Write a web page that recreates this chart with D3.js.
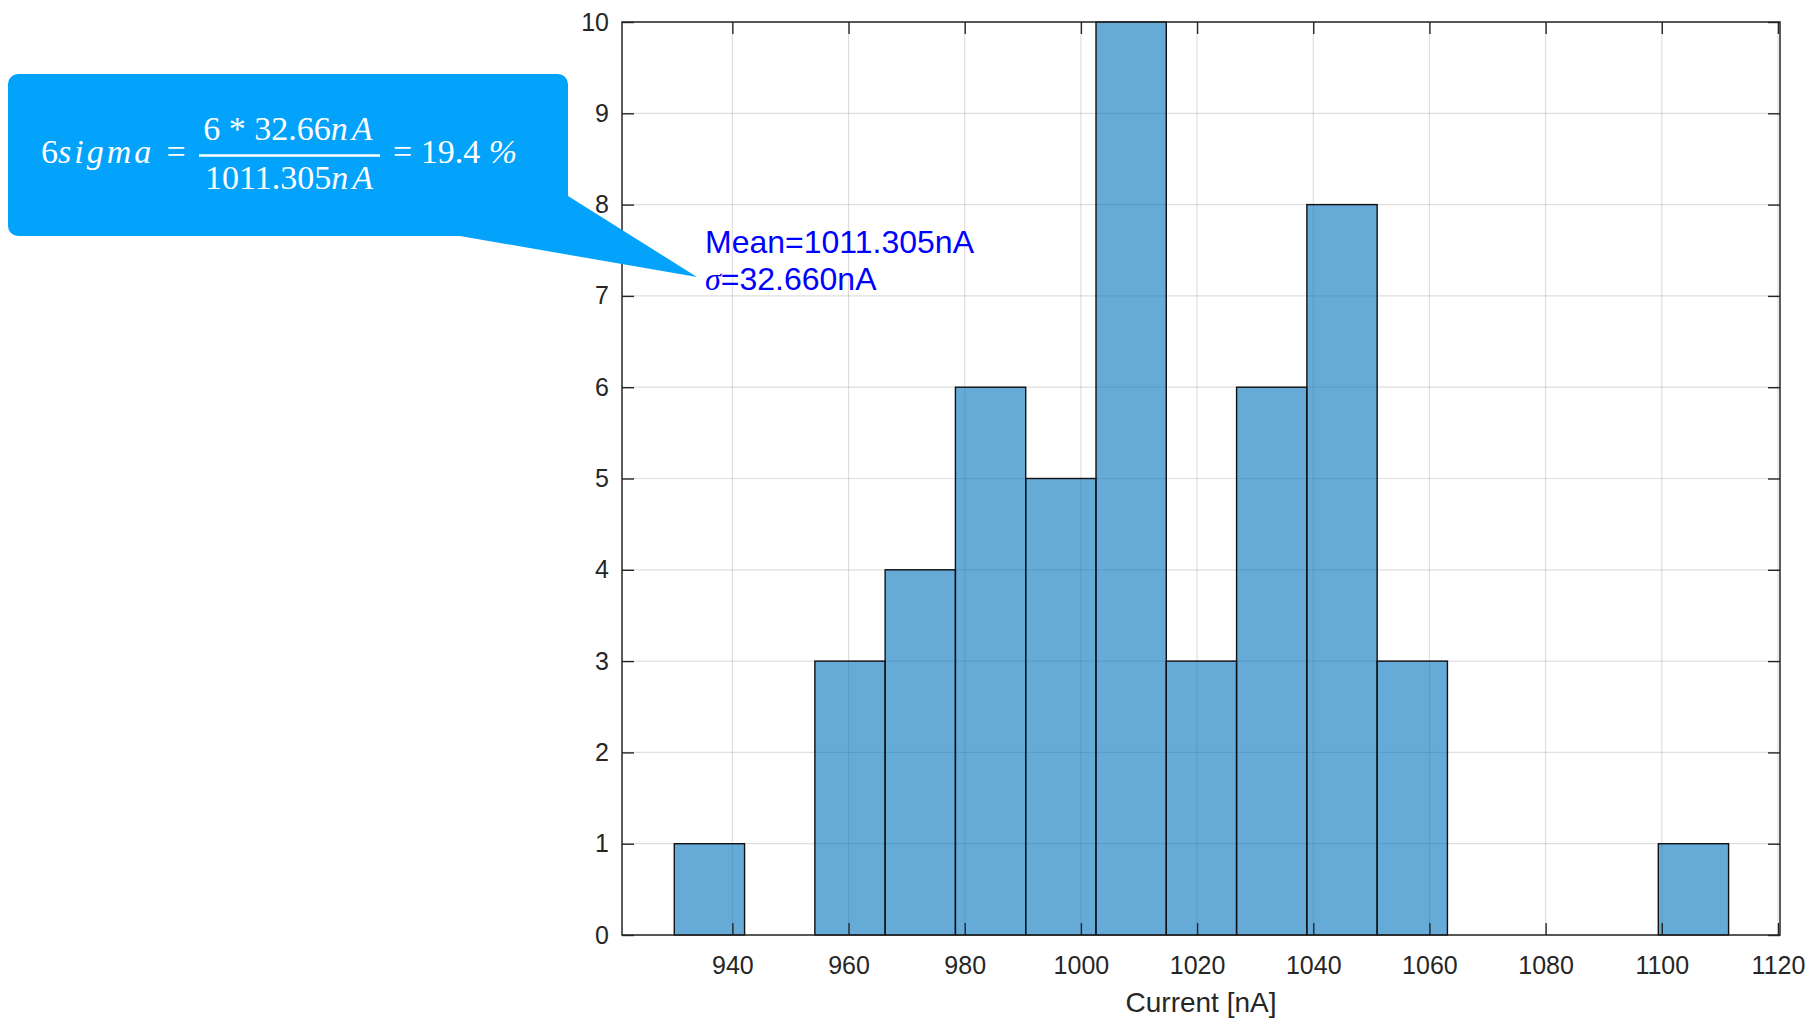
<!DOCTYPE html>
<html>
<head>
<meta charset="utf-8">
<script src="https://cdn.jsdelivr.net/npm/d3@7"></script>
<style>
  html, body { margin: 0; padding: 0; background: #fff; }
  svg { display: block; }
</style>
</head>
<body>
<script>
// Histogram of measured current, 50 samples
const binEdges = [930.0, 942.1, 954.2, 966.3, 978.4, 990.5, 1002.6, 1014.7, 1026.8,
                  1038.9, 1051.0, 1063.1, 1075.2, 1087.3, 1099.4, 1111.5];
const binCounts = [1, 0, 3, 4, 6, 5, 10, 3, 6, 8, 3, 0, 0, 0, 1];
const xTickValues = [940, 960, 980, 1000, 1020, 1040, 1060, 1080, 1100, 1120];
const yTickValues = [0, 1, 2, 3, 4, 5, 6, 7, 8, 9, 10];
const xDomain = [921.0, 1120.35];
const yDomain = [0, 10];
const xLabel = "Current [nA]";
const statLines = ["Mean=1011.305nA", "=32.660nA"];

const W = 1812, H = 1021;
const plot = { left: 622, right: 1780, top: 22, bottom: 935 };
const axisColor = "#262626";
const sansFont = "'Liberation Sans', Arial, Helvetica, sans-serif";
const serifFont = "'Liberation Serif', 'Times New Roman', Times, serif";

const svg = d3.select("body").append("svg")
  .attr("width", W).attr("height", H);

const x = d3.scaleLinear().domain(xDomain).range([plot.left, plot.right]);
const y = d3.scaleLinear().domain(yDomain).range([plot.bottom, plot.top]);

// grid
const grid = svg.append("g").attr("stroke", axisColor).attr("stroke-opacity", 0.15).attr("stroke-width", 1.2);
grid.selectAll("line.vx").data(xTickValues).join("line")
  .attr("x1", d => x(d)).attr("x2", d => x(d))
  .attr("y1", plot.top).attr("y2", plot.bottom);
grid.selectAll("line.hy").data(yTickValues).join("line")
  .attr("x1", plot.left).attr("x2", plot.right)
  .attr("y1", d => y(d)).attr("y2", d => y(d));

// histogram bars
const bins = binCounts.map((c, i) => ({ x0: binEdges[i], x1: binEdges[i + 1], count: c }));
svg.append("g").selectAll("rect").data(bins).join("rect")
  .attr("x", d => x(d.x0))
  .attr("y", d => y(d.count))
  .attr("width", d => x(d.x1) - x(d.x0))
  .attr("height", d => y(0) - y(d.count))
  .attr("fill", "#0072BD").attr("fill-opacity", 0.6)
  .attr("stroke", "#111").attr("stroke-width", 1.4);

// axes with inward ticks on all four sides
const tickLen = 12;
function styleAxis(g) {
  g.select(".domain").remove();
  g.selectAll(".tick line").attr("stroke", axisColor).attr("stroke-width", 1.4);
  g.selectAll(".tick text").attr("fill", axisColor)
    .style("font-family", sansFont).style("font-size", "25px");
}
svg.append("g").attr("transform", `translate(0,${plot.bottom})`)
  .call(d3.axisBottom(x).tickValues(xTickValues).tickSize(-tickLen).tickPadding(21).tickFormat(d3.format("d")))
  .call(styleAxis);
svg.append("g").attr("transform", `translate(0,${plot.top})`)
  .call(d3.axisTop(x).tickValues(xTickValues).tickSize(-tickLen).tickFormat(""))
  .call(styleAxis);
svg.append("g").attr("transform", `translate(${plot.left},0)`)
  .call(d3.axisLeft(y).tickValues(yTickValues).tickSize(-tickLen).tickPadding(13).tickFormat(d3.format("d")))
  .call(styleAxis);
svg.append("g").attr("transform", `translate(${plot.right},0)`)
  .call(d3.axisRight(y).tickValues(yTickValues).tickSize(-tickLen).tickFormat(""))
  .call(styleAxis);

// axes box
svg.append("rect")
  .attr("x", plot.left).attr("y", plot.top)
  .attr("width", plot.right - plot.left).attr("height", plot.bottom - plot.top)
  .attr("fill", "none").attr("stroke", axisColor).attr("stroke-width", 1.5);

// x-axis label
svg.append("text")
  .attr("x", (plot.left + plot.right) / 2).attr("y", 1012)
  .attr("text-anchor", "middle").attr("fill", axisColor)
  .style("font-family", sansFont).style("font-size", "28px")
  .text(xLabel);

// statistics annotation
const stat = svg.append("g").attr("fill", "#0000ff")
  .style("font-family", sansFont).style("font-size", "32px");
stat.append("text").attr("x", 705).attr("y", 253).text(statLines[0]);
const sig = stat.append("text").attr("x", 705).attr("y", 290);
sig.append("tspan").style("font-family", serifFont).style("font-style", "italic").text("σ");
sig.append("tspan").text(statLines[1]);

// callout bubble with pointer
const bx0 = 8, by0 = 74, bx1 = 568, by1 = 236, r = 10;
const tip = [697, 277];
const p = d3.path();
p.moveTo(bx0 + r, by0);
p.lineTo(bx1 - r, by0);
p.arcTo(bx1, by0, bx1, by0 + r, r);
p.lineTo(bx1, 196);
p.lineTo(tip[0], tip[1]);
p.lineTo(460, by1);
p.lineTo(bx0 + r, by1);
p.arcTo(bx0, by1, bx0, by1 - r, r);
p.lineTo(bx0, by0 + r);
p.arcTo(bx0, by0, bx0 + r, by0, r);
p.closePath();
svg.append("path").attr("d", p.toString()).attr("fill", "#03a2fb");

// formula inside the bubble
const f = svg.append("g").attr("fill", "#fff")
  .style("font-family", serifFont).style("font-size", "34px");
const lhs = f.append("text").attr("x", 41).attr("y", 163);
lhs.append("tspan").text("6");
lhs.append("tspan").style("font-style", "italic").attr("letter-spacing", 3).text("sigma");
f.append("text").attr("x", 176).attr("y", 163).attr("text-anchor", "middle").text("=");
const num = f.append("text").attr("x", 290).attr("y", 140).attr("text-anchor", "middle");
num.append("tspan").text("6 * 32.66");
num.append("tspan").style("font-style", "italic").attr("letter-spacing", 4).text("nA");
const den = f.append("text").attr("x", 291).attr("y", 189).attr("text-anchor", "middle");
den.append("tspan").text("1011.305");
den.append("tspan").style("font-style", "italic").attr("letter-spacing", 4).text("nA");
f.append("line").attr("x1", 199).attr("x2", 380).attr("y1", 155.5).attr("y2", 155.5)
  .attr("stroke", "#fff").attr("stroke-width", 2.4);
const rhs = f.append("text").attr("x", 393).attr("y", 163);
rhs.append("tspan").text("= 19.4 ");
rhs.append("tspan").style("font-style", "italic").text("%");
</script>
</body>
</html>
